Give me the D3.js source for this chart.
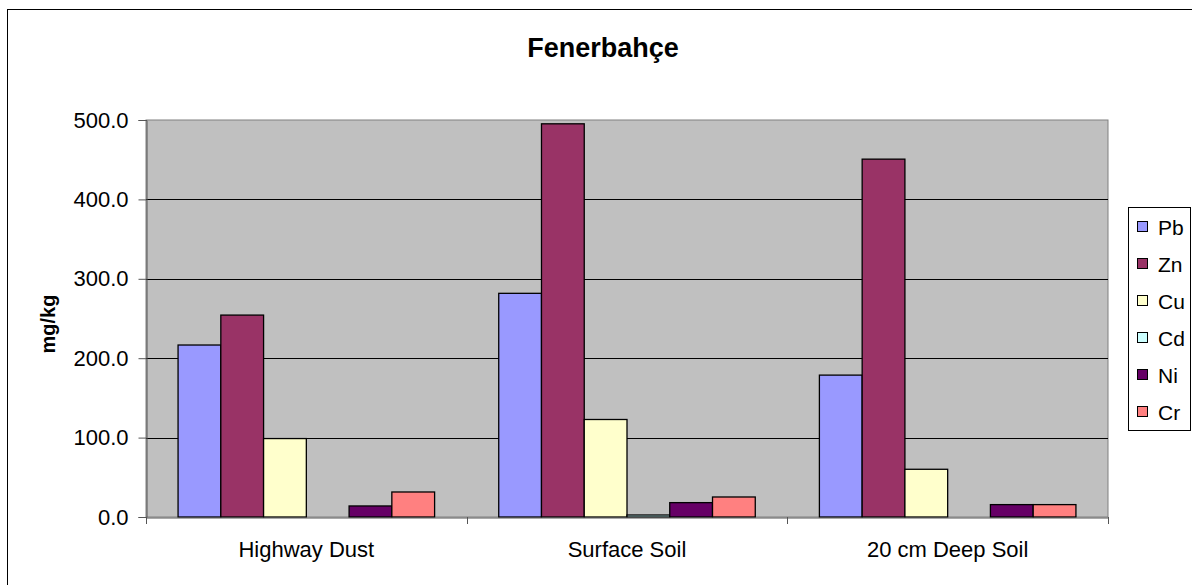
<!DOCTYPE html>
<html>
<head>
<meta charset="utf-8">
<script src="https://cdn.jsdelivr.net/npm/d3@7"></script>
<style>
    body { margin: 0; background: #fff; }
    text { font-family: "Liberation Sans", Arial, sans-serif; fill: #000; }
</style>
</head>
<body>
<svg id="chart" width="1192" height="585"></svg>
<script>
var categories = ['Highway Dust', 'Surface Soil', '20 cm Deep Soil'];
var seriesNames = ['Pb', 'Zn', 'Cu', 'Cd', 'Ni', 'Cr'];
var seriesColors = ['#9999FF', '#993366', '#FFFFCC', '#CCFFFF', '#660066', '#FF8080'];

var pb = [216.6, 281.7, 178.7];
var zn = [254.3, 495.2, 450.7];
var cu = [98.8, 122.8, 60.1];
var cd = [0, 2.5, 0];
var ni = [13.9, 18.1, 15.6];
var cr = [31.5, 25.2, 15.6];

var yTicks = [0, 100, 200, 300, 400, 500];

var seriesValues = [pb, zn, cu, cd, ni, cr];

var plot = {left: 146, right: 1108, top: 120, bottom: 517};

var svg = d3.select('#chart');

// outer chart frame
svg.append('rect')
    .attr('x', 7.5).attr('y', 9.5)
    .attr('width', 1200).attr('height', 600)
    .attr('fill', '#fff')
    .attr('stroke', '#000')
    .attr('stroke-width', 1);

var x0 = d3.scaleBand()
    .domain(categories)
    .range([plot.left, plot.right])
    .padding(0);

var bw = x0.bandwidth(),
    barW = bw / 7.5;   // gap width 150%

var x1 = d3.scaleBand()
    .domain(seriesNames)
    .range([barW * 0.75, bw - barW * 0.75])
    .padding(0);

var y = d3.scaleLinear()
    .domain([0, 500])
    .range([plot.bottom, plot.top]);

// plot area
svg.append('rect')
    .attr('x', plot.left).attr('y', plot.top)
    .attr('width', plot.right - plot.left)
    .attr('height', plot.bottom - plot.top)
    .attr('fill', '#C0C0C0')
    .attr('stroke', '#808080')
    .attr('stroke-width', 1);

// gridlines
svg.append('g')
    .selectAll('line')
    .data(yTicks.filter(function(d) { return d > 0 && d < 500; }))
    .join('line')
    .attr('x1', plot.left).attr('x2', plot.right)
    .attr('y1', function(d) { return Math.round(y(d)) + 0.5; })
    .attr('y2', function(d) { return Math.round(y(d)) + 0.5; })
    .attr('stroke', '#000')
    .attr('stroke-width', 1);

// bars
var rows = [];
categories.forEach(function(c, i) {
    seriesNames.forEach(function(s, j) {
        rows.push({cat: c, name: s, value: seriesValues[j][i], color: seriesColors[j]});
    });
});

svg.append('g')
    .selectAll('rect')
    .data(rows.filter(function(d) { return d.value > 0; }))
    .join('rect')
    .attr('x', function(d) { return x0(d.cat) + x1(d.name); })
    .attr('y', function(d) { return y(d.value); })
    .attr('width', x1.bandwidth())
    .attr('height', function(d) { return y(0) - y(d.value); })
    .attr('fill', function(d) { return d.color; })
    .attr('stroke', '#000')
    .attr('stroke-width', 1.3);

// y axis
var yAxis = svg.append('g')
    .attr('transform', 'translate(' + (plot.left + 0.5) + ',0)')
    .call(d3.axisLeft(y).tickValues(yTicks).tickFormat(d3.format('.1f')).tickSize(8).tickPadding(10));
yAxis.select('.domain').attr('stroke', '#555');
yAxis.selectAll('.tick line').attr('stroke', '#555');
yAxis.selectAll('text')
    .style('font-size', '22px')
    .attr('fill', '#000');

// x axis
var xAxis = svg.append('g')
    .attr('transform', 'translate(0,' + (plot.bottom + 0.5) + ')')
    .call(d3.axisBottom(x0).tickSize(0).tickPadding(24));
xAxis.select('.domain').attr('stroke', '#555');
xAxis.selectAll('text')
    .style('font-size', '22px')
    .attr('fill', '#000');

svg.append('g')
    .selectAll('line')
    .data(categories.map(function(c) { return x0(c); }).concat([plot.right]))
    .join('line')
    .attr('x1', function(d) { return Math.round(d) + 0.5; })
    .attr('x2', function(d) { return Math.round(d) + 0.5; })
    .attr('y1', plot.bottom)
    .attr('y2', plot.bottom + 7)
    .attr('stroke', '#555');

// titles
svg.append('text')
    .attr('x', 603).attr('y', 57)
    .attr('text-anchor', 'middle')
    .style('font-size', '27px')
    .style('font-weight', 'bold')
    .text('Fenerbahçe');

svg.append('text')
    .attr('transform', 'translate(55,324) rotate(-90)')
    .attr('text-anchor', 'middle')
    .style('font-size', '20px')
    .style('font-weight', 'bold')
    .text('mg/kg');

// legend
var legend = svg.append('g');
legend.append('rect')
    .attr('x', 1128.5).attr('y', 207.5)
    .attr('width', 62).attr('height', 223)
    .attr('fill', '#fff')
    .attr('stroke', '#000')
    .attr('stroke-width', 1);

var item = legend.selectAll('g.item')
    .data(seriesNames)
    .join('g')
    .attr('class', 'item')
    .attr('transform', function(d, i) { return 'translate(1137,' + (227 + i * 37) + ')'; });

item.append('rect')
    .attr('x', 0.5).attr('y', -5.5)
    .attr('width', 10).attr('height', 10)
    .attr('fill', function(d, i) { return seriesColors[i]; })
    .attr('stroke', '#000')
    .attr('stroke-width', 1);

item.append('text')
    .attr('x', 21).attr('y', 0)
    .attr('dy', '0.36em')
    .style('font-size', '21px')
    .text(function(d) { return d; });
</script>
</body>
</html>
